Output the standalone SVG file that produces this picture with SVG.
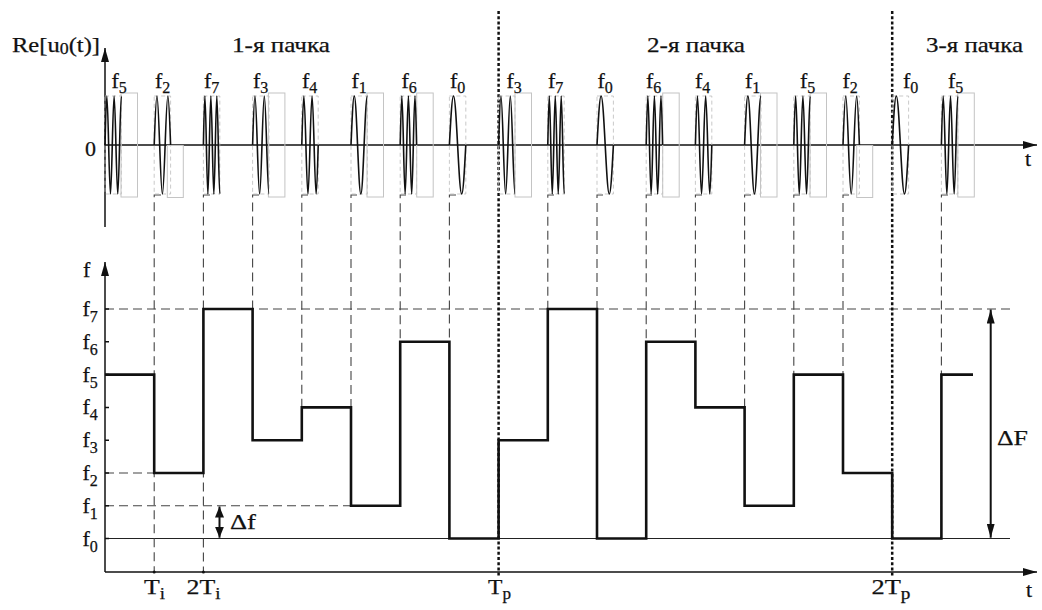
<svg xmlns="http://www.w3.org/2000/svg" width="1042" height="610" viewBox="0 0 1042 610">
<style>
text{font-family:'Liberation Serif','Times New Roman',serif;fill:#111;stroke:#111;stroke-width:0.25}
.big{font-size:22px}
.lab{font-size:22px}
.sub{font-size:16px}
.ax{stroke:#111;stroke-width:1.5;fill:none}
.wave{stroke:#111;stroke-width:1.6;fill:none}
.box{stroke:#bbb;stroke-width:0.8;stroke-dasharray:4 3;fill:none}
.ghost{stroke:#c4c4c4;stroke-width:1;fill:none}
.guide{stroke:#444;stroke-width:1.1;stroke-dasharray:9 5;fill:none}
.dot{stroke:#111;stroke-width:2.5;stroke-dasharray:3 2.2;fill:none}
.step{stroke:#111;stroke-width:2.6;fill:none;stroke-linejoin:miter}
.thin{stroke:#222;stroke-width:1.1;fill:none}
.dbl{stroke:#111;stroke-width:2;fill:none}
</style>
<defs>
<marker id="ah" markerUnits="userSpaceOnUse" viewBox="0 0 14 8" refX="14" refY="4" markerWidth="14" markerHeight="8" orient="auto-start-reverse"><path d="M0,0 L14,4 L0,8 z" fill="#111"/></marker>
<marker id="ah2" markerUnits="userSpaceOnUse" viewBox="0 0 11 9" refX="11" refY="4.5" markerWidth="11" markerHeight="9" orient="auto-start-reverse"><path d="M0,0 L11,4.5 L0,9 z" fill="#111"/></marker>
<path id="w0" d="M0,0 c1.337,-25.1 2.616,-49 4.1,-49 c1.484,0 2.763,23.9 4.1,49 c1.337,25.1 2.616,49 4.1,49 c1.484,0 2.763,-23.9 4.1,-49"/>
<path id="w1" d="M0,0 c1.07,-25.1 2.093,-49 3.28,-49 c1.187,0 2.21,23.9 3.28,49 c1.07,25.1 2.093,49 3.28,49 c1.187,0 2.21,-23.9 3.28,-49 c1.07,-25.1 2.093,-49 3.28,-49"/>
<path id="w2" d="M0,0 c.891,-25.1 1.744,-49 2.733,-49 c.989,0 1.842,23.9 2.733,49 c.891,25.1 1.744,49 2.733,49 c.989,0 1.842,-23.9 2.733,-49 c.891,-25.1 1.744,-49 2.733,-49 c.989,0 1.842,23.9 2.733,49"/>
<path id="w3" d="M0,0 c.764,-25.1 1.495,-49 2.343,-49 c.848,0 1.579,23.9 2.343,49 c.764,25.1 1.495,49 2.343,49 c.848,0 1.579,-23.9 2.343,-49 c.764,-25.1 1.495,-49 2.343,-49 c.848,0 1.579,23.9 2.343,49 c.764,25.1 1.495,49 2.343,49"/>
<path id="w4" d="M0,0 c.669,-25.1 1.308,-49 2.05,-49 c.742,0 1.381,23.9 2.05,49 c.669,25.1 1.308,49 2.05,49 c.742,0 1.381,-23.9 2.05,-49 c.669,-25.1 1.308,-49 2.05,-49 c.742,0 1.381,23.9 2.05,49 c.669,25.1 1.308,49 2.05,49 c.742,0 1.381,-23.9 2.05,-49"/>
<path id="w5" d="M0,0 c.594,-25.1 1.163,-49 1.822,-49 c.659,0 1.228,23.9 1.822,49 c.594,25.1 1.163,49 1.822,49 c.659,0 1.228,-23.9 1.822,-49 c.594,-25.1 1.163,-49 1.822,-49 c.659,0 1.228,23.9 1.822,49 c.594,25.1 1.163,49 1.822,49 c.659,0 1.228,-23.9 1.822,-49 c.594,-25.1 1.163,-49 1.822,-49"/>
<path id="w6" d="M0,0 c.535,-25.1 1.046,-49 1.64,-49 c.594,0 1.105,23.9 1.64,49 c.535,25.1 1.046,49 1.64,49 c.594,0 1.105,-23.9 1.64,-49 c.535,-25.1 1.046,-49 1.64,-49 c.594,0 1.105,23.9 1.64,49 c.535,25.1 1.046,49 1.64,49 c.594,0 1.105,-23.9 1.64,-49 c.535,-25.1 1.046,-49 1.64,-49 c.594,0 1.105,23.9 1.64,49"/>
<path id="w7" d="M0,0 c.486,-25.1 .951,-49 1.491,-49 c.54,0 1.005,23.9 1.491,49 c.486,25.1 .951,49 1.491,49 c.54,0 1.005,-23.9 1.491,-49 c.486,-25.1 .951,-49 1.491,-49 c.54,0 1.005,23.9 1.491,49 c.486,25.1 .951,49 1.491,49 c.54,0 1.005,-23.9 1.491,-49 c.486,-25.1 .951,-49 1.491,-49 c.54,0 1.005,23.9 1.491,49 c.486,25.1 .951,49 1.491,49"/>
<rect id="bx" x="0" y="-49" width="16.4" height="98"/>
<rect id="gf" x="0" y="-52" width="16.5" height="104"/>
<rect id="gh" x="0" y="0.5" width="16" height="52"/>
</defs>

<g id="connectors">
<path class="guide" d="M105,309 H1010"/>
<path class="guide" d="M105,473 H154.2"/>
<path class="guide" d="M105,505.7 H351"/>
<path class="thin" d="M105,538.5 H1010"/>
<path class="guide" d="M161,195 H154.2 V572"/>
<path class="guide" d="M210,195 H203.4 V572"/>
<path class="guide" d="M259,195 H252.6 V309"/>
<path class="guide" d="M308,195 H301.8 V407.4"/>
<path class="guide" d="M357,195 H351 V407.4"/>
<path class="guide" d="M406,195 H400.2 V341.8"/>
<path class="guide" d="M456,195 H449.4 V341.8"/>
<path class="guide" d="M554,195 H547.8 V309"/>
<path class="guide" d="M603,195 H597 V309"/>
<path class="guide" d="M652,195 H646.2 V341.8"/>
<path class="guide" d="M702,195 H695.4 V341.8"/>
<path class="guide" d="M751,195 H744.6 V407.4"/>
<path class="guide" d="M800,195 H793.8 V374.6"/>
<path class="guide" d="M849,195 H843 V374.6"/>
<path class="guide" d="M948,195 H941.4 V374.6"/>
<path class="dot" d="M498.6,11 V576"/>
<path class="dot" d="M892.2,11 V576"/>
</g>

<g id="axes">
<path class="ax" d="M105,227 V48" marker-end="url(#ah)"/>
<path class="ax" d="M105,145 H1037" marker-end="url(#ah)"/>
<path class="ax" d="M105,572 V262" marker-end="url(#ah)"/>
<path class="ax" d="M105,572 H1037" marker-end="url(#ah)"/>
<path class="ax" d="M105,309 h4 M105,341.8 h4 M105,374.6 h4 M105,407.4 h4 M105,440.2 h4 M105,473 h4 M105,505.7 h4 M105,538.5 h4"/>
<circle cx="154.2" cy="572" r="1.5" fill="#111"/>
<circle cx="203.4" cy="572" r="1.5" fill="#111"/>
</g>

<g id="pulses" transform="translate(0,145)">
<g id="p0"><use href="#bx" class="box" x="105"/><use href="#gf" class="ghost" x="121"/><use href="#w5" class="wave" x="105"/></g>
<g id="p1"><use href="#bx" class="box" x="154.2"/><use href="#gh" class="ghost" x="167.3"/><use href="#w2" class="wave" x="154.2"/></g>
<g id="p2"><use href="#bx" class="box" x="203.4"/><use href="#w7" class="wave" x="203.4"/></g>
<g id="p3"><use href="#bx" class="box" x="252.6"/><use href="#gf" class="ghost" x="268.4"/><use href="#w3" class="wave" x="252.6"/></g>
<g id="p4"><use href="#bx" class="box" x="301.8"/><use href="#w4" class="wave" x="301.8"/></g>
<g id="p5"><use href="#bx" class="box" x="351"/><use href="#gf" class="ghost" x="367"/><use href="#w1" class="wave" x="351"/></g>
<g id="p6"><use href="#bx" class="box" x="400.2"/><use href="#gf" class="ghost" x="416.7"/><use href="#w6" class="wave" x="400.2"/></g>
<g id="p7"><use href="#bx" class="box" x="449.4"/><use href="#w0" class="wave" x="449.4"/></g>
<g id="p8"><use href="#bx" class="box" x="498.6"/><use href="#gf" class="ghost" x="515"/><use href="#w3" class="wave" x="498.6"/></g>
<g id="p9"><use href="#bx" class="box" x="547.8"/><use href="#w7" class="wave" x="547.8"/></g>
<g id="p10"><use href="#bx" class="box" x="597"/><use href="#w0" class="wave" x="597"/></g>
<g id="p11"><use href="#bx" class="box" x="646.2"/><use href="#gf" class="ghost" x="662.7"/><use href="#w6" class="wave" x="646.2"/></g>
<g id="p12"><use href="#bx" class="box" x="695.4"/><use href="#w4" class="wave" x="695.4"/></g>
<g id="p13"><use href="#bx" class="box" x="744.6"/><use href="#gf" class="ghost" x="760.5"/><use href="#w1" class="wave" x="744.6"/></g>
<g id="p14"><use href="#bx" class="box" x="793.8"/><use href="#gf" class="ghost" x="810"/><use href="#w5" class="wave" x="793.8"/></g>
<g id="p15"><use href="#bx" class="box" x="843"/><use href="#gh" class="ghost" x="856.7"/><use href="#w2" class="wave" x="843"/></g>
<g id="p16"><use href="#bx" class="box" x="892.2"/><use href="#w0" class="wave" x="892.2"/></g>
<g id="p17"><use href="#bx" class="box" x="941.4"/><use href="#gf" class="ghost" x="957.8"/><use href="#w5" class="wave" x="941.4"/></g>
</g>

<g id="pulse-labels" class="lab">
<text class="lab" x="111.5" y="88">f<tspan class="sub" dy="5">5</tspan></text>
<text class="lab" x="155" y="88">f<tspan class="sub" dy="5">2</tspan></text>
<text class="lab" x="204" y="88">f<tspan class="sub" dy="5">7</tspan></text>
<text class="lab" x="253" y="88">f<tspan class="sub" dy="5">3</tspan></text>
<text class="lab" x="302" y="88">f<tspan class="sub" dy="5">4</tspan></text>
<text class="lab" x="351.5" y="88">f<tspan class="sub" dy="5">1</tspan></text>
<text class="lab" x="401.5" y="88">f<tspan class="sub" dy="5">6</tspan></text>
<text class="lab" x="450" y="88">f<tspan class="sub" dy="5">0</tspan></text>
<text class="lab" x="506.5" y="88">f<tspan class="sub" dy="5">3</tspan></text>
<text class="lab" x="548" y="88">f<tspan class="sub" dy="5">7</tspan></text>
<text class="lab" x="597.5" y="88">f<tspan class="sub" dy="5">0</tspan></text>
<text class="lab" x="646" y="88">f<tspan class="sub" dy="5">6</tspan></text>
<text class="lab" x="695" y="88">f<tspan class="sub" dy="5">4</tspan></text>
<text class="lab" x="745" y="88">f<tspan class="sub" dy="5">1</tspan></text>
<text class="lab" x="800" y="88">f<tspan class="sub" dy="5">5</tspan></text>
<text class="lab" x="842.5" y="88">f<tspan class="sub" dy="5">2</tspan></text>
<text class="lab" x="903" y="88">f<tspan class="sub" dy="5">0</tspan></text>
<text class="lab" x="948" y="88">f<tspan class="sub" dy="5">5</tspan></text>
</g>

<g id="step-plot">
<path class="step" d="M105,374.6 H154.2 V473 H203.4 V309 H252.6 V440.2 H301.8 V407.4 H351 V505.7 H400.2 V341.8 H449.4 V538.5 H498.6 V440.2 H547.8 V309 H597 V538.5 H646.2 V341.8 H695.4 V407.4 H744.6 V505.7 H793.8 V374.6 H843 V473 H892.2 V538.5 H941.4 V374.6 H973"/>
</g>

<g id="delta-f">
<path class="dbl" d="M219.5,506.5 V537.7" marker-start="url(#ah2)" marker-end="url(#ah2)"/>
<text class="lab" x="230" y="529" textLength="26" lengthAdjust="spacingAndGlyphs">Δf</text>
</g>
<g id="delta-F">
<path class="dbl" d="M990.7,309.5 V537.7" marker-start="url(#ah)" marker-end="url(#ah)"/>
<text class="lab" x="997" y="445" textLength="31" lengthAdjust="spacingAndGlyphs">ΔF</text>
</g>

<g id="labels">
<text class="big" x="12" y="52" textLength="88" lengthAdjust="spacingAndGlyphs">Re[u<tspan class="sub" dy="1.5">0</tspan><tspan dy="-1.5">(t)]</tspan></text>
<text class="big" x="232" y="52" textLength="98" lengthAdjust="spacingAndGlyphs">1-я пачка</text>
<text class="big" x="647" y="52" textLength="98" lengthAdjust="spacingAndGlyphs">2-я пачка</text>
<text class="big" x="926" y="52" textLength="97" lengthAdjust="spacingAndGlyphs">3-я пачка</text>
<text class="big" x="85" y="156">0</text>
<text class="big" x="1025" y="166">t</text>
<text class="big" x="1026" y="597">t</text>
<text class="big" x="83" y="277">f</text>
<text class="lab" x="82.5" y="316">f<tspan class="sub" dy="6">7</tspan></text>
<text class="lab" x="82.5" y="348.8">f<tspan class="sub" dy="6">6</tspan></text>
<text class="lab" x="82.5" y="381.6">f<tspan class="sub" dy="6">5</tspan></text>
<text class="lab" x="82.5" y="414.4">f<tspan class="sub" dy="6">4</tspan></text>
<text class="lab" x="82.5" y="447.2">f<tspan class="sub" dy="6">3</tspan></text>
<text class="lab" x="82.5" y="480">f<tspan class="sub" dy="6">2</tspan></text>
<text class="lab" x="82.5" y="512.7">f<tspan class="sub" dy="6">1</tspan></text>
<text class="lab" x="82.5" y="545.5">f<tspan class="sub" dy="6">0</tspan></text>
<text class="lab" x="144" y="594" textLength="21" lengthAdjust="spacingAndGlyphs">T<tspan class="sub" dy="5">i</tspan></text>
<text class="lab" x="186.5" y="594" textLength="34" lengthAdjust="spacingAndGlyphs">2T<tspan class="sub" dy="5">i</tspan></text>
<text class="lab" x="488" y="594" textLength="23" lengthAdjust="spacingAndGlyphs">T<tspan class="sub" dy="5">p</tspan></text>
<text class="lab" x="871.5" y="594" textLength="39" lengthAdjust="spacingAndGlyphs">2T<tspan class="sub" dy="5">p</tspan></text>
</g>
</svg>
